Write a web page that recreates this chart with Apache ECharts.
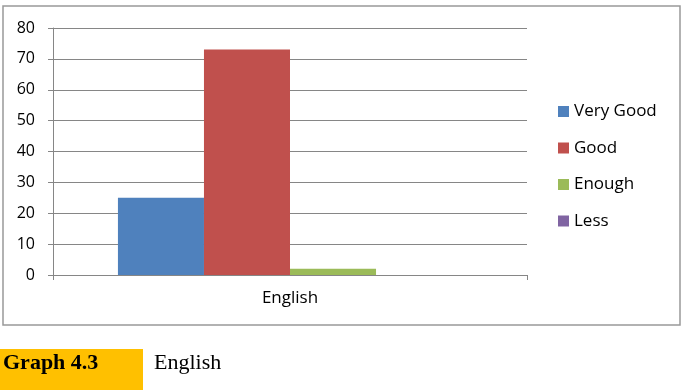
<!DOCTYPE html>
<html><head><meta charset="utf-8">
<script src="https://cdn.jsdelivr.net/npm/echarts@6/dist/echarts.min.js"></script>
<style>html,body{margin:0;padding:0;background:#fff}#c{width:693px;height:390px}</style>
</head><body><div id="c"></div>
<script>
const categories = ['English'];
const seriesNames = ['Very Good', 'Good', 'Enough', 'Less'];
const veryGood = [25];
const good = [73];
const enough = [2];
const less = [0];
const yTicks = { min: 0, max: 80, interval: 10 };
const colors = ['#4F81BD', '#C0504D', '#9BBB59', '#8064A2'];
const values = [veryGood, good, enough, less];

const chart = echarts.init(document.getElementById('c'), null, { renderer: 'canvas' });
chart.setOption({
  animation: false,
  color: colors,
  textStyle: { fontFamily: 'Open Sans, Liberation Sans, sans-serif' },
  grid: { left: 53, right: 166, top: 28, bottom: 115 },
  legend: {
    orient: 'vertical', left: 553, top: 98,
    itemWidth: 11, itemHeight: 11, itemGap: 19.5,
    icon: 'rect',
    textStyle: { fontSize: 17, color: '#000' },
    data: seriesNames
  },
  xAxis: {
    type: 'category', data: categories,
    axisLine: { lineStyle: { color: '#868686' } },
    axisTick: { show: true, length: 5, lineStyle: { color: '#868686' } },
    axisLabel: { fontSize: 17, color: '#000', margin: 15 }
  },
  yAxis: {
    type: 'value', min: yTicks.min, max: yTicks.max, interval: yTicks.interval,
    axisLine: { show: true, lineStyle: { color: '#868686' } },
    axisTick: { show: true, length: 5, lineStyle: { color: '#868686' } },
    axisLabel: { fontSize: 16, color: '#000', margin: 18 },
    splitLine: { lineStyle: { color: '#868686' } }
  },
  series: seriesNames.map((n, i) => ({
    name: n, type: 'bar', data: values[i],
    barGap: '0%', barCategoryGap: '27.4%'
  })),
  graphic: [
    { type: 'rect', shape: { x: 3, y: 6, width: 677, height: 319 },
      style: { fill: 'none', stroke: '#999', lineWidth: 1.5 }, z: -1 },
    { type: 'rect', shape: { x: 0, y: 349, width: 143, height: 41 },
      style: { fill: '#FFC000' } },
    { type: 'text', left: 3, top: 352,
      style: { text: 'Graph 4.3', fontFamily: 'Liberation Serif, serif', fontWeight: 'bold', fontSize: 22, fill: '#000' } },
    { type: 'text', left: 154, top: 352,
      style: { text: 'English', fontFamily: 'Liberation Serif, serif', fontSize: 22, fill: '#000' } }
  ]
});
</script></body></html>
